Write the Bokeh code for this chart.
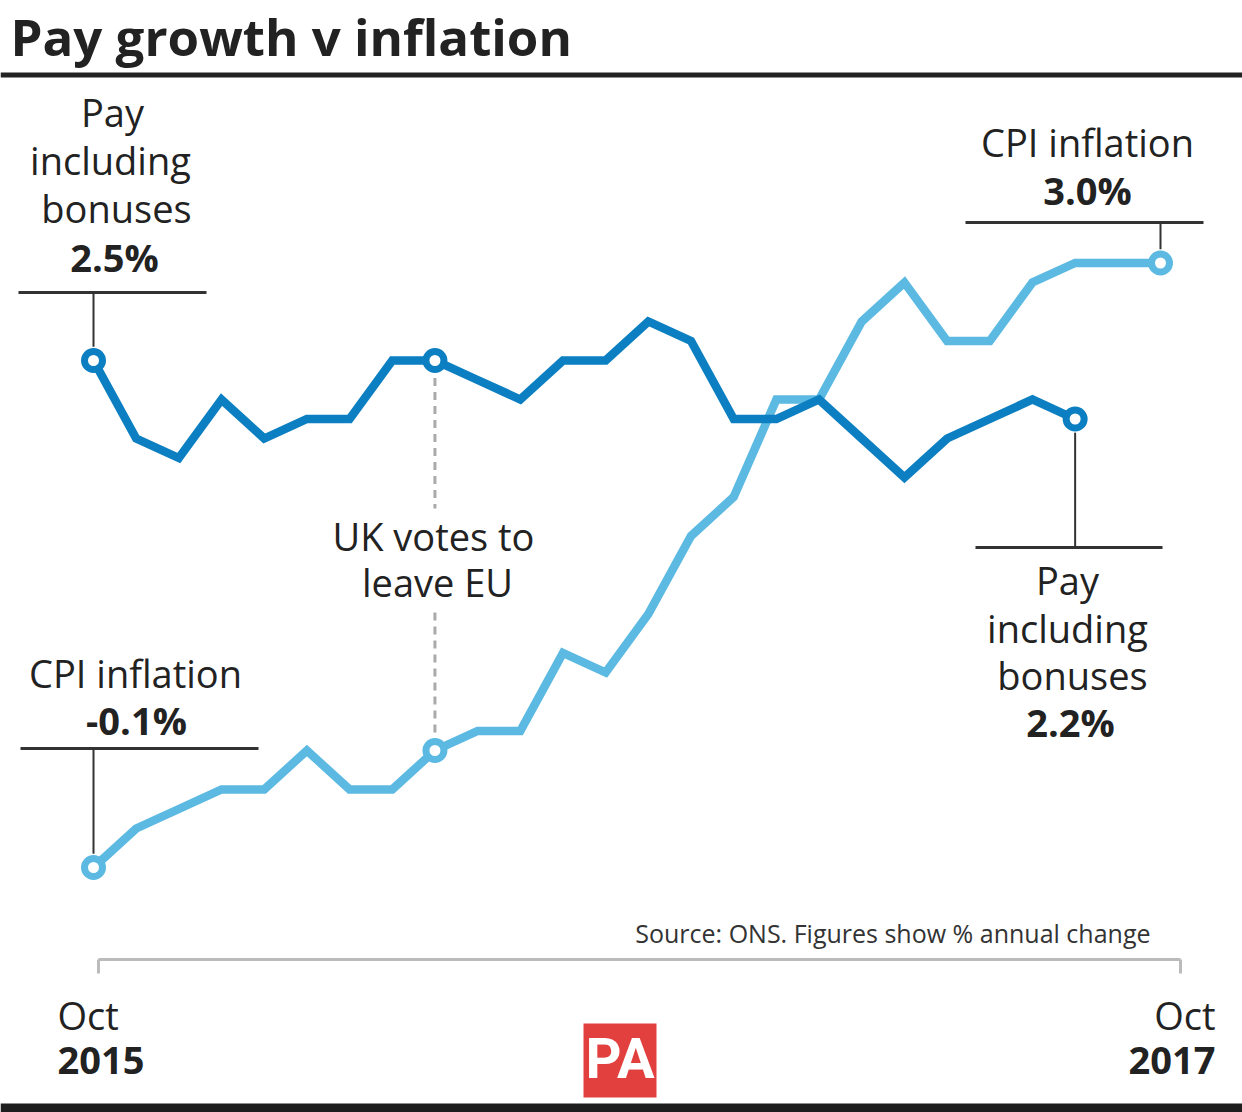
from bokeh.plotting import figure
from bokeh.models import Range1d
from bokeh.embed import file_html
from bokeh.resources import INLINE
from bokeh.core.properties import value

# ---- data (annual % change, monthly from Oct 2015) ----
pay_months = list(range(24))
pay = [2.5, 2.1, 2.0, 2.3, 2.1, 2.2, 2.2, 2.5, 2.5, 2.4, 2.3, 2.5,
       2.5, 2.7, 2.6, 2.2, 2.2, 2.3, 2.1, 1.9, 2.1, 2.2, 2.3, 2.2]
cpi_months = list(range(26))
cpi = [-0.1, 0.1, 0.2, 0.3, 0.3, 0.5, 0.3, 0.3, 0.5, 0.6, 0.6, 1.0, 0.9,
       1.2, 1.6, 1.8, 2.3, 2.3, 2.7, 2.9, 2.6, 2.6, 2.9, 3.0, 3.0, 3.0]
brexit_month = 8
start_label = ["Oct", "2015"]
end_label = ["Oct", "2017"]
title = "Pay growth v inflation"
source = "Source: ONS. Figures show % annual change"

W, H = 1242, 1112
PXX = 42.68      # px per month
X0 = 93.0        # px of month 0
PXY = 195.0      # px per percentage point
Y_REF_PX, Y_REF_V = 360.0, 2.5

def X(px):
    return (px - X0) / PXX

def Y(py):
    return Y_REF_V - (py - Y_REF_PX) / PXY

PAY_C = "#0b7fc1"
CPI_C = "#5bb9e2"
TXT = "#222222"
FONT = value("Open Sans")
BASE_FIX = 0.42  # rendered baseline sits lower than requested; compensate

p = figure(width=W, height=H, x_range=Range1d(X(0), X(W)), y_range=Range1d(Y(H), Y(0)),
           output_backend="svg", toolbar_location=None, min_border=0,
           x_axis_location=None, y_axis_location=None)
p.grid.visible = False
p.outline_line_color = None
p.background_fill_color = "white"
p.border_fill_color = "white"


def label(xs, ys, texts, bold=False, size=38, align="center", color=TXT, font=FONT):
    p.text(x=[X(v) for v in xs], y=[Y(v - BASE_FIX * size) for v in ys], text=texts, text_font=font,
           text_font_size="%dpx" % size, text_font_style="bold" if bold else "normal",
           text_color=color, text_align=align, text_baseline="alphabetic")


# header / footer rules
p.segment(x0=[X(0)], y0=[Y(74.5)], x1=[X(W)], y1=[Y(74.5)], line_color="#222222", line_width=5)
p.quad(left=[X(0)], right=[X(W)], top=[Y(1103)], bottom=[Y(1112)], fill_color="#1e1e1e", line_color=None)
p.text(x=[X(10)], y=[Y(0.5)], text=[title], text_font=FONT, text_font_size="51px",
       text_font_style="bold", text_color=TXT, text_align="left", text_baseline="top")

# Brexit dashed marker line
p.segment(x0=[brexit_month, brexit_month], y0=[pay[brexit_month] - 0.09, Y(612)],
          x1=[brexit_month, brexit_month], y1=[Y(508), cpi[brexit_month] + 0.08],
          line_color="#aaaaaa", line_width=3, line_dash="8 6")

# data lines
p.line(cpi_months, cpi, line_color=CPI_C, line_width=8.5, line_join="miter")
p.line(pay_months, pay, line_color=PAY_C, line_width=8.5, line_join="miter")

# markers
ci = [0, brexit_month, len(cpi) - 1]
pi = [0, brexit_month, len(pay) - 1]
p.scatter([cpi_months[i] for i in ci], [cpi[i] for i in ci], size=18, fill_color="white",
          line_color=CPI_C, line_width=7)
p.scatter([pay_months[i] for i in pi], [pay[i] for i in pi], size=18, fill_color="white",
          line_color=PAY_C, line_width=7)

# annotation rules + leaders
RULE = "#333333"
p.segment(x0=[X(18), X(965), X(20), X(975)], y0=[Y(292), Y(222), Y(748), Y(547)],
          x1=[X(206), X(1203), X(258), X(1162)], y1=[Y(292), Y(222), Y(748), Y(547)],
          line_color=RULE, line_width=3)
p.segment(x0=[pay_months[0], cpi_months[-1], cpi_months[0], pay_months[-1]],
          y0=[Y(292), Y(222), Y(748), Y(547)],
          x1=[pay_months[0], cpi_months[-1], cpi_months[0], pay_months[-1]],
          y1=[pay[0] + 0.07, cpi[-1] + 0.07, cpi[0] + 0.07, pay[-1] - 0.07],
          line_color=RULE, line_width=2)

# top-left pay label
label([112, 110, 116], [127, 175, 223], ["Pay", "including", "bonuses"])
label([114], [272], ["%.1f%%" % pay[0]], bold=True)
# top-right CPI label
label([1087], [157], ["CPI inflation"])
label([1087], [205], ["%.1f%%" % cpi[-1]], bold=True)
# bottom-left CPI label
label([135], [688], ["CPI inflation"])
label([136], [735], ["%.1f%%" % cpi[0]], bold=True)
# bottom-right pay label
label([1067, 1067, 1072], [595, 643, 690], ["Pay", "including", "bonuses"])
label([1070], [737], ["%.1f%%" % pay[-1]], bold=True)
# brexit label
label([433, 437], [551, 597], ["UK votes to", "leave EU"])

# source
label([1150], [943], [source], size=25, align="right", color="#333333")

# x axis
p.segment(x0=[X(98)], y0=[Y(959)], x1=[X(1180)], y1=[Y(959)], line_color="#bbbbbb", line_width=3)
p.segment(x0=[X(98), X(1180)], y0=[Y(959), Y(959)], x1=[X(98), X(1180)], y1=[Y(973), Y(973)],
          line_color="#bbbbbb", line_width=3)
label([57], [1030], [start_label[0]], align="left")
label([57], [1076], [start_label[1]], bold=True, align="left")
label([1215], [1030], [end_label[0]], align="right")
label([1215], [1076], [end_label[1]], bold=True, align="right")

# PA logo
p.quad(left=[X(583)], right=[X(656)], top=[Y(1023)], bottom=[Y(1097)], fill_color="#e2403f", line_color=None)
label([619.5], [1082], ["PA"], bold=True, size=56, color="white", font=value("Roboto"))

open("out.html", "w").write(file_html(p, INLINE))
